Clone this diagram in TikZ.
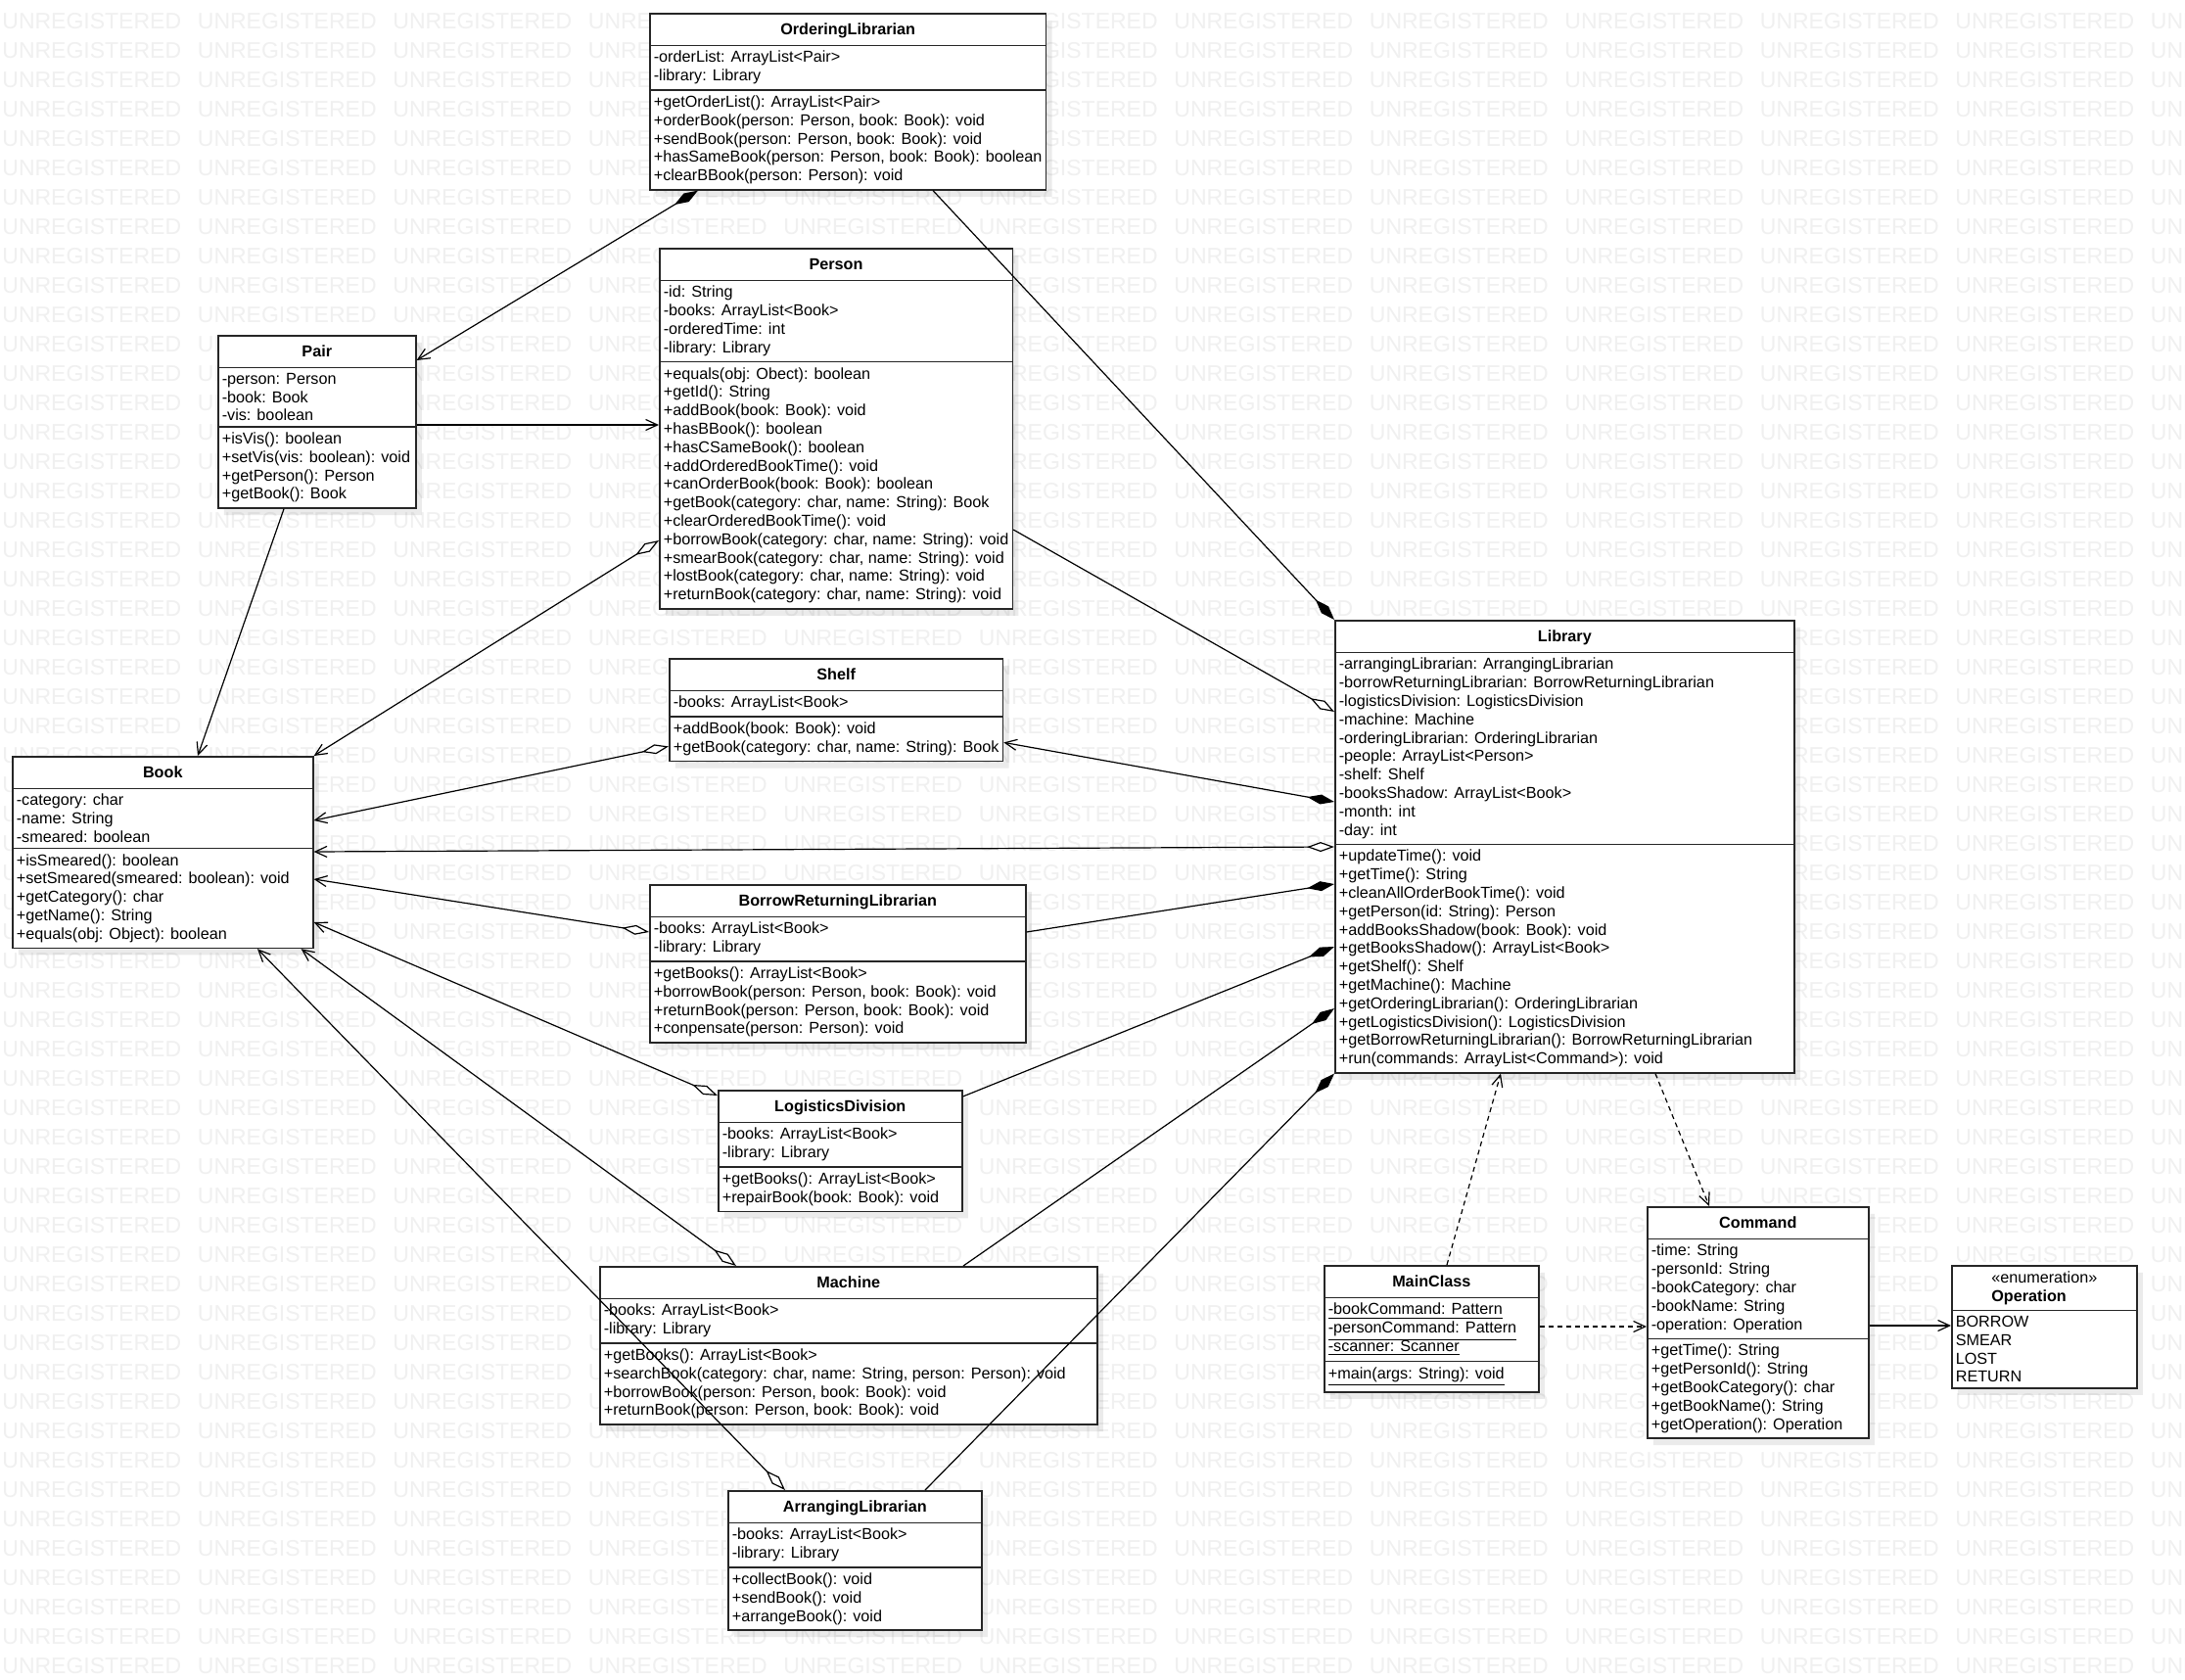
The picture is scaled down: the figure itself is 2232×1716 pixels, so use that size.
\documentclass[tikz,border=0pt]{standalone}
\usepackage{fontspec}
\setmainfont{Liberation Sans}
\usetikzlibrary{calc}
\usetikzlibrary{shapes.multipart}
\usetikzlibrary{arrows.meta}
\usetikzlibrary{shadows}
\newcommand{\umlfont}{\fontsize{8.1}{9.4}\selectfont}
\newcommand{\wmfont}{\fontsize{11.5}{12}\selectfont}
\newcommand{\ctitle}[1]{\rule[-2.5pt]{0pt}{10.5pt}\textbf{#1}}
\tikzset{
  umlclass/.style={rectangle split, rectangle split parts=3, draw=black!85, line width=0.8pt,
    fill=white, anchor=north west, align=left, font=\umlfont, inner xsep=2pt, inner ysep=2.5pt,
    rectangle split part align={center,left,left},
    general shadow={fill=black, opacity=0.08, shadow xshift=3pt, shadow yshift=-3.5pt}},
  umlenum/.style={umlclass, rectangle split parts=2, rectangle split part align={center,left}},
  watermark/.style={text=black!6, font=\wmfont, anchor=west, inner sep=0pt},
  nav/.style={draw, -{Straight Barb[length=6pt,width=5.5pt]}, line width=0.6pt},
  aggrnav/.style={draw, {Diamond[fill=white,length=14pt,width=5pt]}-{Straight Barb[length=6pt,width=5.5pt]}, line width=0.6pt},
  aggr/.style={draw, {Diamond[fill=white,length=14pt,width=5pt]}-, line width=0.6pt},
  compnav/.style={draw, {Diamond[length=14pt,width=5pt]}-{Straight Barb[length=6pt,width=5.5pt]}, line width=0.6pt},
  comp/.style={draw, {Diamond[length=14pt,width=5pt]}-, line width=0.6pt},
  depend/.style={draw, dash pattern=on 2.5pt off 2pt, -{Straight Barb[length=6pt,width=5.5pt]}, line width=0.6pt}
  }

\begin{document}
\begin{tikzpicture}[x=0.5pt, y=-0.5pt]
	% Frame
	\fill[white] (0,0) rectangle (2232,1716);
	\useasboundingbox (0,0) rectangle (2232,1716);
	\clip (0,0) rectangle (2232,1716);

	% Watermark
	\foreach \r in {0,...,56}{
		\foreach \c in {0,...,11}{
			\node[watermark] (wm-\r-\c) at ({2+199.5*\c}, {21.4+30*\r}) {UNREGISTERED};
		}
	}

	% Nodes
	\node[umlclass, minimum width=202pt] (ordlib) at (663,13) {\ctitle{OrderingLibrarian}
		\nodepart{second} -orderList: ArrayList<Pair>\\-library: Library
		\nodepart{third} +getOrderList(): ArrayList<Pair>\\+orderBook(person: Person, book: Book): void\\+sendBook(person: Person, book: Book): void\\+hasSameBook(person: Person, book: Book): boolean\\+clearBBook(person: Person): void};
	\node[umlclass, minimum width=179.5pt] (person) at (673,253) {\ctitle{Person}
		\nodepart{second} -id: String\\-books: ArrayList<Book>\\-orderedTime: int\\-library: Library
		\nodepart{third} +equals(obj: Obect): boolean\\+getId(): String\\+addBook(book: Book): void\\+hasBBook(): boolean\\+hasCSameBook(): boolean\\+addOrderedBookTime(): void\\+canOrderBook(book: Book): boolean\\+getBook(category: char, name: String): Book\\+clearOrderedBookTime(): void\\+borrowBook(category: char, name: String): void\\+smearBook(category: char, name: String): void\\+lostBook(category: char, name: String): void\\+returnBook(category: char, name: String): void};
	\node[umlclass, minimum width=101pt] (pair) at (222,342) {\ctitle{Pair}
		\nodepart{second} -person: Person\\-book: Book\\-vis: boolean
		\nodepart{third} +isVis(): boolean\\+setVis(vis: boolean): void\\+getPerson(): Person\\+getBook(): Book};
	\node[umlclass, minimum width=153.5pt] (book) at (12,772) {\ctitle{Book}
		\nodepart{second} -category: char\\-name: String\\-smeared: boolean
		\nodepart{third} +isSmeared(): boolean\\+setSmeared(smeared: boolean): void\\+getCategory(): char\\+getName(): String\\+equals(obj: Object): boolean};
	\node[umlclass, minimum width=170pt] (shelf) at (683,672) {\ctitle{Shelf}
		\nodepart{second} -books: ArrayList<Book>
		\nodepart{third} +addBook(book: Book): void\\+getBook(category: char, name: String): Book};
	\node[umlclass, minimum width=192pt] (brlib) at (663,903) {\ctitle{BorrowReturningLibrarian}
		\nodepart{second} -books: ArrayList<Book>\\-library: Library
		\nodepart{third} +getBooks(): ArrayList<Book>\\+borrowBook(person: Person, book: Book): void\\+returnBook(person: Person, book: Book): void\\+conpensate(person: Person): void};
	\node[umlclass, minimum width=124.5pt] (logdiv) at (733,1113) {\ctitle{LogisticsDivision}
		\nodepart{second} -books: ArrayList<Book>\\-library: Library
		\nodepart{third} +getBooks(): ArrayList<Book>\\+repairBook(book: Book): void};
	\node[umlclass, minimum width=234.5pt] (library) at (1363,633) {\ctitle{Library}
		\nodepart{second} -arrangingLibrarian: ArrangingLibrarian\\-borrowReturningLibrarian: BorrowReturningLibrarian\\-logisticsDivision: LogisticsDivision\\-machine: Machine\\-orderingLibrarian: OrderingLibrarian\\-people: ArrayList<Person>\\-shelf: Shelf\\-booksShadow: ArrayList<Book>\\-month: int\\-day: int
		\nodepart{third} +updateTime(): void\\+getTime(): String\\+cleanAllOrderBookTime(): void\\+getPerson(id: String): Person\\+addBooksShadow(book: Book): void\\+getBooksShadow(): ArrayList<Book>\\+getShelf(): Shelf\\+getMachine(): Machine\\+getOrderingLibrarian(): OrderingLibrarian\\+getLogisticsDivision(): LogisticsDivision\\+getBorrowReturningLibrarian(): BorrowReturningLibrarian\\+run(commands: ArrayList<Command>): void};
	\node[umlclass, minimum width=254pt] (machine) at (612,1293) {\ctitle{Machine}
		\nodepart{second} -books: ArrayList<Book>\\-library: Library
		\nodepart{third} +getBooks(): ArrayList<Book>\\+searchBook(category: char, name: String, person: Person): void\\+borrowBook(person: Person, book: Book): void\\+returnBook(person: Person, book: Book): void};
	\node[umlclass, minimum width=129.5pt] (arrlib) at (743,1522) {\ctitle{ArrangingLibrarian}
		\nodepart{second} -books: ArrayList<Book>\\-library: Library
		\nodepart{third} +collectBook(): void\\+sendBook(): void\\+arrangeBook(): void};
	\node[umlclass, minimum width=109.5pt] (mainclass) at (1352,1292) {\ctitle{MainClass}
		\nodepart{second} \underline{-bookCommand: Pattern}\\\underline{-personCommand: Pattern}\\\underline{-scanner: Scanner}
		\nodepart{third} \underline{+main(args: String): void}\rule[-4pt]{0pt}{4pt}};
	\node[umlclass, minimum width=113pt] (command) at (1682,1232) {\ctitle{Command}
		\nodepart{second} -time: String\\-personId: String\\-bookCategory: char\\-bookName: String\\-operation: Operation
		\nodepart{third} +getTime(): String\\+getPersonId(): String\\+getBookCategory(): char\\+getBookName(): String\\+getOperation(): Operation};
	\node[umlenum, minimum width=94.5pt] (operation) at (1993,1292) {«enumeration»\\\textbf{Operation}
		\nodepart{second} BORROW\\SMEAR\\LOST\\RETURN};

	% Arrows from OrderingLibrarian
	\draw[compnav] ($(ordlib.south west)+(50,0)$) -- ($(pair.north east)+(0,26)$);
	\draw[comp] (library.north west) -- ($(ordlib.south west)+(290,0)$);
	% Pair and Person
	\draw[nav] ($(pair.north east)+(0,92)$) -- ($(person.north west)+(0,181)$);
	\draw[nav] ($(pair.south west)+(68,0)$) -- ($(book.north west)+(190,0)$);
	\draw[aggrnav] ($(person.north west)+(0,299)$) -- (book.north east);
	\draw[aggr] ($(library.north west)+(0,94)$) -- ($(person.north east)+(0,288)$);
	% Arrows to Book
	\draw[aggrnav] ($(shelf.south west)+(0,-16)$) -- ($(book.north east)+(0,66)$);
	\draw[aggrnav] ($(library.north west)+(0,232)$) -- ($(book.north east)+(0,98)$);
	\draw[aggrnav] ($(brlib.north west)+(0,49)$) -- ($(book.north east)+(0,126)$);
	\draw[aggrnav] ($(logdiv.north west)+(0,6)$) -- ($(book.north east)+(0,170)$);
	\draw[aggrnav] ($(machine.north west)+(140,0)$) -- ($(book.south east)+(-13,0)$);
	\draw[aggrnav] ($(arrlib.north west)+(59,0)$) -- ($(book.south west)+(251,0)$);
	% Library compositions
	\draw[compnav] ($(library.north west)+(0,186)$) -- ($(shelf.south east)+(0,-20)$);
	\draw[comp] ($(library.north west)+(0,270)$) -- ($(brlib.north east)+(0,49)$);
	\draw[comp] ($(library.north west)+(0,334)$) -- ($(logdiv.north east)+(0,7)$);
	\draw[comp] ($(library.north west)+(0,397)$) -- ($(machine.north west)+(372,0)$);
	\draw[comp] (library.south west) -- ($(arrlib.north west)+(202,0)$);
	% MainClass and Command
	\draw[depend] ($(mainclass.north west)+(126,0)$) -- ($(library.south west)+(170,0)$);
	\draw[depend] ($(mainclass.north east)+(0,63)$) -- ($(command.north west)+(0,123)$);
	\draw[depend] ($(library.south west)+(328,0)$) -- ($(command.north west)+(64,0)$);
	\draw[nav] ($(command.north east)+(0,122)$) -- ($(operation.north west)+(0,62)$);
\end{tikzpicture}
\end{document}
